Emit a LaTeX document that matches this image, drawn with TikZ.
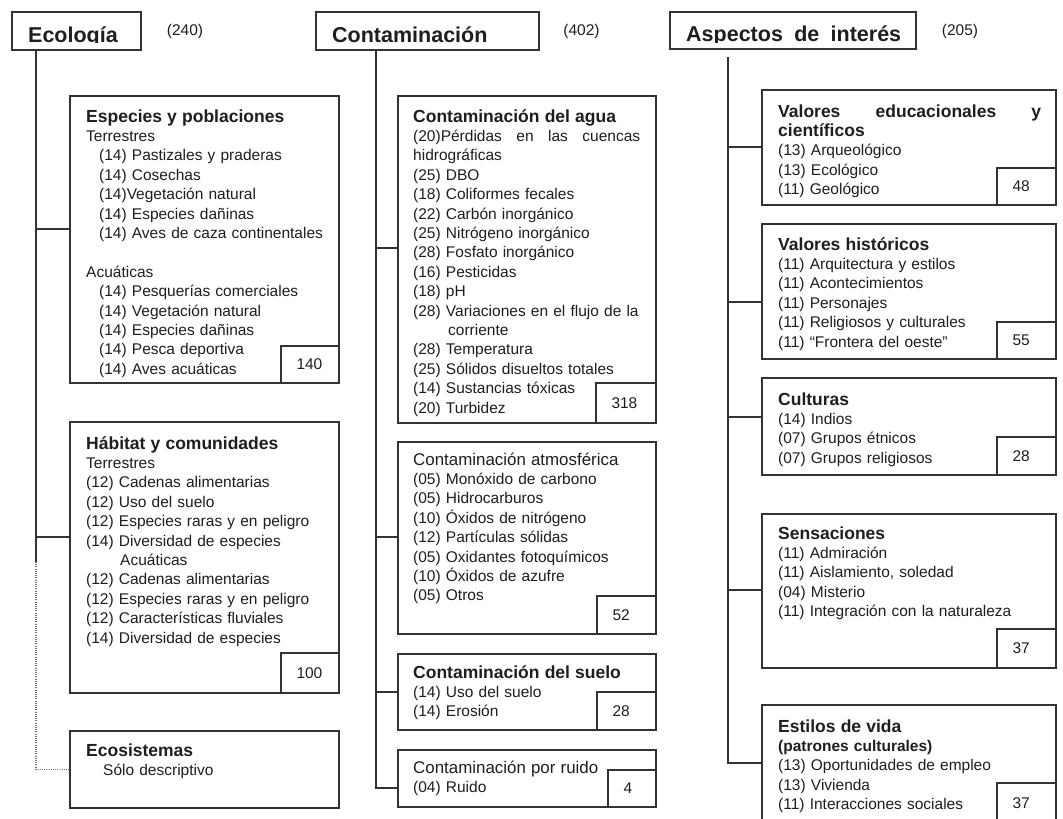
\documentclass[tikz,border=0pt]{standalone}
\usepackage{fontspec}
\setmainfont{Liberation Sans}
\usetikzlibrary{calc}
\definecolor{ink}{HTML}{1E1E1E}
\definecolor{linec}{HTML}{333333}
\newcommand{\tfont}{\fontsize{17.5}{19.4}\selectfont\bfseries}
\newcommand{\rfont}{\fontsize{16.9}{19.4}\selectfont}
\tikzset{
  box/.style={draw=linec, line width=1.4pt, inner sep=0pt, outer sep=0pt, anchor=north west},
  numbox/.style={draw=linec, line width=1.4pt, outer sep=0pt, inner ysep=0pt, inner xsep=15.5pt,
    text width=#1, align=left, anchor=south east, font=\fontsize{15.5}{19.4}\selectfont, text=ink},
  txt/.style={anchor=base west, inner sep=0pt, text width=#1, align=left,
    font=\fontsize{15.5}{19.4}\selectfont, text=ink},
  hdr/.style={anchor=base west, inner sep=0pt, font=\fontsize{21.5}{24}\selectfont\bfseries, text=ink},
  cnt/.style={anchor=base, inner sep=0pt, font=\fontsize{15.5}{19.4}\selectfont, text=ink},
  conn/.style={draw=linec, line width=1.3pt},
  dotconn/.style={draw=linec!70, line width=1.1pt, dash pattern=on 1pt off 1.2pt},
}
\begin{document}
\begin{tikzpicture}[x=1pt,y=-1pt]
\useasboundingbox[fill=white] (0,0) rectangle (1063,819);

% ---------------- headers
\node[box, minimum width=129pt, minimum height=38pt] (ecol) at (12,12) {};
\node[box, minimum width=223pt, minimum height=38pt] (cont) at (316,12) {};
\node[box, minimum width=246pt, minimum height=37pt] (asp) at (670,12) {};
\begin{scope}
  \clip (12,12) rectangle (141,42.5);
  \node[hdr] (ecolt) at (28,42) {Ecología};
\end{scope}
\begin{scope}
  \clip (316,12) rectangle (539,42.5);
  \node[hdr] (contt) at (332,42) {Contaminación};
\end{scope}
\begin{scope}
  \clip (670,12) rectangle (916,42);
  \node[hdr] (aspt) at (686,41.5) {\makebox[215pt][s]{Aspectos de interés}};
\end{scope}
\node[cnt] (c240) at (185,35) {(240)};
\node[cnt] (c402) at (581.5,35) {(402)};
\node[cnt] (c205) at (960,35) {(205)};

% ---------------- left column
\node[box, minimum width=269pt, minimum height=287pt] (esp) at (70,96) {};
\node[numbox=27pt, minimum width=58pt, minimum height=37pt] (espn) at (esp.south east) {140};
\node[txt=245pt] (espt) at (86,122) {{\tfont Especies y poblaciones}\\
Terrestres\\
\hspace*{13pt}(14) Pastizales y praderas\\
\hspace*{13pt}(14) Cosechas\\
\hspace*{13pt}(14)Vegetación natural\\
\hspace*{13pt}(14) Especies dañinas\\
\hspace*{13pt}(14) Aves de caza continentales\\[19.4pt]
Acuáticas\\
\hspace*{13pt}(14) Pesquerías comerciales\\
\hspace*{13pt}(14) Vegetación natural\\
\hspace*{13pt}(14) Especies dañinas\\
\hspace*{13pt}(14) Pesca deportiva\\
\hspace*{13pt}(14) Aves acuáticas};

\node[box, minimum width=269pt, minimum height=271pt] (hab) at (70,422) {};
\node[numbox=27pt, minimum width=58pt, minimum height=40pt] (habn) at (hab.south east) {100};
\node[txt=245pt] (habt) at (86,449) {{\tfont Hábitat y comunidades}\\
Terrestres\\
(12) Cadenas alimentarias\\
(12) Uso del suelo\\
(12) Especies raras y en peligro\\
(14) Diversidad de especies\\
\hspace*{34pt}Acuáticas\\
(12) Cadenas alimentarias\\
(12) Especies raras y en peligro\\
(12) Características fluviales\\
(14) Diversidad de especies};

\node[box, minimum width=269pt, minimum height=77pt] (ecos) at (70,731) {};
\node[txt=245pt] (ecost) at (86,756) {{\tfont Ecosistemas}\\
\hspace*{17pt}Sólo descriptivo};

\coordinate (L0) at (36,50);
\coordinate (L1) at (36,229);
\coordinate (L2) at (36,537);
\coordinate (L3) at (36,562);
\draw[conn] (L0) -- (L3);
\draw[conn] (L1) -- (L1 -| esp.west);
\draw[conn] (L2) -- (L2 -| hab.west);
\draw[dotconn] (L3) |- (ecos.west);

% ---------------- middle column
\node[box, minimum width=258pt, minimum height=327pt] (agua) at (398,96) {};
\node[numbox=29pt, minimum width=60pt, minimum height=40pt] (aguan) at (agua.south east) {318};
\node[txt=235pt] (aguat) at (413,122) {{\tfont Contaminación del agua}\\
\leavevmode\hbox to 227pt{(20)Pérdidas\hfill en\hfill las\hfill cuencas}\\
hidrográficas\\
(25) DBO\\
(18) Coliformes fecales\\
(22) Carbón inorgánico\\
(25) Nitrógeno inorgánico\\
(28) Fosfato inorgánico\\
(16) Pesticidas\\
(18) pH\\
(28) Variaciones en el flujo de la\\
\hspace*{35pt}corriente\\
(28) Temperatura\\
(25) Sólidos disueltos totales\\
(14) Sustancias tóxicas\\
(20) Turbidez};

\node[box, minimum width=258pt, minimum height=192pt] (atm) at (398,442) {};
\node[numbox=28pt, minimum width=59pt, minimum height=38pt] (atmn) at (atm.south east) {52};
\node[txt=235pt] (atmt) at (413,465) {{\rfont Contaminación atmosférica}\\
(05) Monóxido de carbono\\
(05) Hidrocarburos\\
(10) Óxidos de nitrógeno\\
(12) Partículas sólidas\\
(05) Oxidantes fotoquímicos\\
(10) Óxidos de azufre\\
(05) Otros};

\node[box, minimum width=258pt, minimum height=76pt] (suelo) at (398,654) {};
\node[numbox=28pt, minimum width=59pt, minimum height=38pt] (suelon) at (suelo.south east) {28};
\node[txt=235pt] (suelot) at (413,678) {{\tfont Contaminación del suelo}\\
(14) Uso del suelo\\
(14) Erosión};

\node[box, minimum width=258pt, minimum height=57pt] (ruido) at (398,750) {};
\node[numbox=17pt, minimum width=48pt, minimum height=37pt] (ruidon) at (ruido.south east) {4};
\node[txt=235pt] (ruidot) at (413,773) {{\rfont Contaminación por ruido}\\
(04) Ruido};

\coordinate (M0) at (376,50);
\coordinate (M1) at (376,248);
\coordinate (M2) at (376,537);
\coordinate (M3) at (376,692);
\coordinate (M4) at (376,788);
\draw[conn] (M0) -- (M4) -- (M4 -| ruido.west);
\draw[conn] (M1) -- (M1 -| agua.west);
\draw[conn] (M2) -- (M2 -| atm.west);
\draw[conn] (M3) -- (M3 -| suelo.west);

% ---------------- right column
\node[box, minimum width=294pt, minimum height=115pt] (valed) at (762,90) {};
\begin{scope}
  \clip (762,90) rectangle (1056,197);
  \node[txt=270pt] (valedt) at (778,117) {\leavevmode{\tfont \hbox to 263pt{Valores\hfill educacionales\hfill y}}\\
  {\tfont científicos}\\
  (13) Arqueológico\\
  (13) Ecológico\\
  (11) Geológico};
\end{scope}
\node[numbox=28pt, minimum width=59pt, minimum height=37pt] (valedn) at (valed.south east) {48};

\node[box, minimum width=294pt, minimum height=135pt] (valhi) at (762,224) {};
\node[numbox=28pt, minimum width=59pt, minimum height=37pt] (valhin) at (valhi.south east) {55};
\node[txt=270pt] (valhit) at (778,250) {{\tfont Valores históricos}\\
(11) Arquitectura y estilos\\
(11) Acontecimientos\\
(11) Personajes\\
(11) Religiosos y culturales\\
(11) “Frontera del oeste”};

\node[box, minimum width=294pt, minimum height=97pt] (cult) at (762,378) {};
\node[numbox=28pt, minimum width=59pt, minimum height=38pt] (cultn) at (cult.south east) {28};
\node[txt=270pt] (cultt) at (778,405) {{\tfont Culturas}\\
(14) Indios\\
(07) Grupos étnicos\\
(07) Grupos religiosos};

\node[box, minimum width=294pt, minimum height=154pt] (sens) at (762,514) {};
\node[numbox=28pt, minimum width=59pt, minimum height=39pt] (sensn) at (sens.south east) {37};
\node[txt=270pt] (senst) at (778,539) {{\tfont Sensaciones}\\
(11) Admiración\\
(11) Aislamiento, soledad\\
(04) Misterio\\
(11) Integración con la naturaleza};

\node[box, minimum width=294pt, minimum height=118pt] (estil) at (762,705) {};
\node[numbox=28pt, minimum width=59pt, minimum height=40pt] (estiln) at (estil.south east) {37};
\node[txt=270pt] (estilt) at (778,732) {{\tfont Estilos de vida}\\
{\bfseries (patrones culturales)}\\
(13) Oportunidades de empleo\\
(13) Vivienda\\
(11) Interacciones sociales};

\coordinate (R0) at (728,57);
\coordinate (R1) at (728,147);
\coordinate (R2) at (728,302);
\coordinate (R3) at (728,417);
\coordinate (R4) at (728,590);
\coordinate (R5) at (728,763);
\draw[conn] (R0) -- (R5) -- (R5 -| estil.west);
\draw[conn] (R1) -- (R1 -| valed.west);
\draw[conn] (R2) -- (R2 -| valhi.west);
\draw[conn] (R3) -- (R3 -| cult.west);
\draw[conn] (R4) -- (R4 -| sens.west);
\end{tikzpicture}
\end{document}
